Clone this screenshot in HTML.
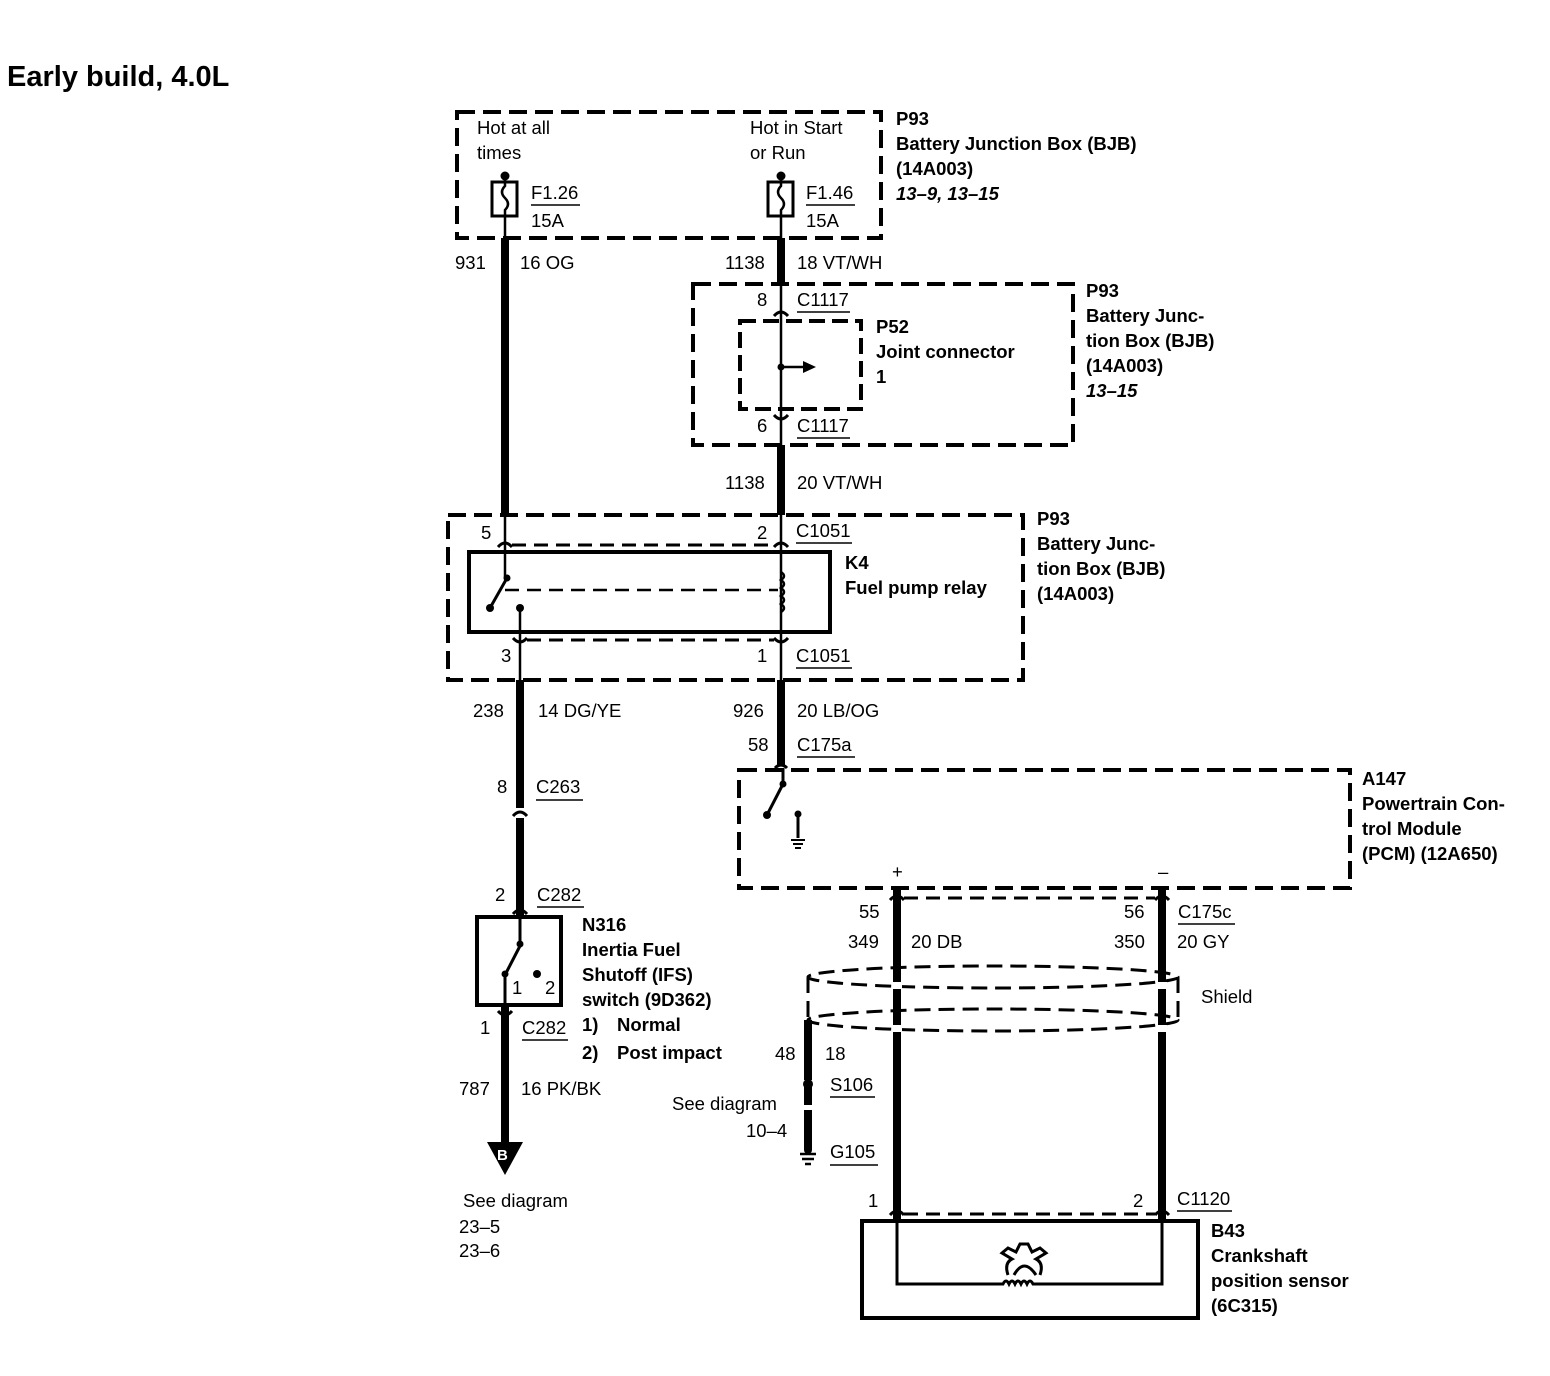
<!DOCTYPE html>
<html><head><meta charset="utf-8"><style>
html,body{margin:0;padding:0;background:#fff}
svg{display:block}
text{font-family:"Liberation Sans",Arial,sans-serif;font-size:18.5px;fill:#000}
.b{font-weight:bold}
.i{font-style:italic;font-weight:bold}
</style></head><body>
<svg width="1550" height="1376" viewBox="0 0 1550 1376" xmlns="http://www.w3.org/2000/svg">
<text x="7" y="86" class="b" style="font-size:29px">Early build, 4.0L</text>

<g fill="none" stroke="#000" stroke-width="4" stroke-dasharray="18,8">
<rect x="457" y="112" width="424" height="126"/>
<rect x="693" y="284" width="380" height="161"/>
<rect x="448" y="515" width="575" height="165"/>
<rect x="739" y="770" width="611" height="118"/>
</g>
<rect x="740" y="321" width="121" height="88" fill="none" stroke="#000" stroke-width="4" stroke-dasharray="16,7"/>

<text x="477" y="134">Hot at all</text>
<text x="477" y="159">times</text>
<text x="750" y="134">Hot in Start</text>
<text x="750" y="159">or Run</text>
<text x="896" y="125" class="b">P93</text>
<text x="896" y="150" class="b">Battery Junction Box (BJB)</text>
<text x="896" y="175" class="b">(14A003)</text>
<text x="896" y="200" class="i">13–9, 13–15</text>

<g stroke="#000" fill="none">
<circle cx="505" cy="176" r="4" fill="#000"/>
<rect x="492" y="182" width="25" height="34" stroke-width="3"/>
<path d="M505 176 V186 q-6 6 0 12 q6 6 0 12 V238" stroke-width="2.5"/>
<circle cx="781" cy="176" r="4" fill="#000"/>
<rect x="768" y="182" width="25" height="34" stroke-width="3"/>
<path d="M781 176 V186 q-6 6 0 12 q6 6 0 12 V238" stroke-width="2.5"/>
</g>
<text x="531" y="199">F1.26</text><line x1="531" y1="205" x2="580" y2="205" stroke="#000" stroke-width="1.5"/>
<text x="531" y="227">15A</text>
<text x="806" y="199">F1.46</text><line x1="806" y1="205" x2="855" y2="205" stroke="#000" stroke-width="1.5"/>
<text x="806" y="227">15A</text>

<line x1="505" y1="238" x2="505" y2="515" stroke="#000" stroke-width="8"/>
<text x="455" y="269">931</text><text x="520" y="269">16 OG</text>
<line x1="781" y1="238" x2="781" y2="284" stroke="#000" stroke-width="8"/>
<text x="725" y="269">1138</text><text x="797" y="269">18 VT/WH</text>
<line x1="781" y1="284" x2="781" y2="445" stroke="#000" stroke-width="2.5"/>
<path d="M774 316 q7 -8 14 0" stroke="#000" stroke-width="3" fill="none"/>
<path d="M774 415 q7 8 14 0" stroke="#000" stroke-width="3" fill="none"/>
<circle cx="781" cy="367" r="3.5"/>
<line x1="781" y1="367" x2="805" y2="367" stroke="#000" stroke-width="2.5"/>
<path d="M803 361 L816 367 L803 373Z"/>
<text x="757" y="306">8</text><text x="797" y="306">C1117</text><line x1="797" y1="312" x2="850" y2="312" stroke="#000" stroke-width="1.5"/>
<text x="757" y="432">6</text><text x="797" y="432">C1117</text><line x1="797" y1="438" x2="850" y2="438" stroke="#000" stroke-width="1.5"/>
<text x="876" y="333" class="b">P52</text>
<text x="876" y="358" class="b">Joint connector</text>
<text x="876" y="383" class="b">1</text>
<text x="1086" y="297" class="b">P93</text>
<text x="1086" y="322" class="b">Battery Junc-</text>
<text x="1086" y="347" class="b">tion Box (BJB)</text>
<text x="1086" y="372" class="b">(14A003)</text>
<text x="1086" y="397" class="i">13–15</text>

<line x1="781" y1="445" x2="781" y2="515" stroke="#000" stroke-width="8"/>
<text x="725" y="489">1138</text><text x="797" y="489">20 VT/WH</text>

<g stroke="#000" fill="none">
<line x1="505" y1="515" x2="505" y2="578" stroke-width="2.5"/>
<line x1="781" y1="515" x2="781" y2="632" stroke-width="2.5"/>
<path d="M498 547 q7 -8 14 0 M774 547 q7 -8 14 0" stroke-width="3"/>
<line x1="512" y1="545" x2="774" y2="545" stroke-width="3" stroke-dasharray="14,8"/>
<rect x="469" y="552" width="361" height="80" stroke-width="4"/>
<line x1="507" y1="578" x2="490" y2="608" stroke-width="3"/>
<line x1="505" y1="590" x2="778" y2="590" stroke-width="2.5" stroke-dasharray="14,8"/>
<path d="M781 572 q6 4 0 8 q6 4 0 8 q6 4 0 8 q6 4 0 8 q6 4 0 8" stroke-width="2.5"/>
<line x1="520" y1="608" x2="520" y2="680" stroke-width="2.5"/>
<line x1="781" y1="632" x2="781" y2="680" stroke-width="2.5"/>
<path d="M513 638 q7 8 14 0 M774 638 q7 8 14 0" stroke-width="3"/>
<line x1="527" y1="640" x2="774" y2="640" stroke-width="3" stroke-dasharray="14,8"/>
</g>
<circle cx="507" cy="578" r="3.5"/><circle cx="490" cy="608" r="4"/><circle cx="520" cy="608" r="4"/>
<text x="481" y="539">5</text><text x="757" y="539">2</text>
<text x="796" y="537">C1051</text><line x1="796" y1="543" x2="852" y2="543" stroke="#000" stroke-width="1.5"/>
<text x="501" y="662">3</text><text x="757" y="662">1</text>
<text x="796" y="662">C1051</text><line x1="796" y1="668" x2="852" y2="668" stroke="#000" stroke-width="1.5"/>
<text x="845" y="569" class="b">K4</text>
<text x="845" y="594" class="b">Fuel pump relay</text>
<text x="1037" y="525" class="b">P93</text>
<text x="1037" y="550" class="b">Battery Junc-</text>
<text x="1037" y="575" class="b">tion Box (BJB)</text>
<text x="1037" y="600" class="b">(14A003)</text>

<line x1="520" y1="680" x2="520" y2="808" stroke="#000" stroke-width="8"/>
<line x1="520" y1="818" x2="520" y2="916" stroke="#000" stroke-width="8"/>
<path d="M513 816 q7 -8 14 0 M513 914 q7 -8 14 0" stroke="#000" stroke-width="3" fill="none"/>
<text x="473" y="717">238</text><text x="538" y="717">14 DG/YE</text>
<text x="497" y="793">8</text><text x="536" y="793">C263</text><line x1="536" y1="800" x2="583" y2="800" stroke="#000" stroke-width="1.5"/>
<text x="495" y="901">2</text><text x="537" y="901">C282</text><line x1="537" y1="907" x2="584" y2="907" stroke="#000" stroke-width="1.5"/>

<rect x="477" y="917" width="84" height="88" fill="none" stroke="#000" stroke-width="4"/>
<line x1="520" y1="917" x2="520" y2="944" stroke="#000" stroke-width="3"/>
<line x1="521" y1="944" x2="505" y2="975" stroke="#000" stroke-width="3"/>
<circle cx="520" cy="944" r="3.5"/><circle cx="505" cy="974" r="3.5"/><circle cx="537" cy="974" r="4"/>
<line x1="505" y1="974" x2="505" y2="1005" stroke="#000" stroke-width="3"/>
<text x="512" y="994">1</text><text x="545" y="994">2</text>
<line x1="505" y1="1005" x2="505" y2="1145" stroke="#000" stroke-width="8"/>
<path d="M498 1011 q7 8 14 0" stroke="#000" stroke-width="3" fill="none"/>
<text x="480" y="1034">1</text><text x="522" y="1034">C282</text><line x1="522" y1="1040" x2="568" y2="1040" stroke="#000" stroke-width="1.5"/>
<text x="459" y="1095">787</text><text x="521" y="1095">16 PK/BK</text>
<path d="M487 1142 L523 1142 L505 1175Z"/>
<text x="497" y="1160" class="b" style="fill:#fff;font-size:15px">B</text>
<text x="463" y="1207">See diagram</text>
<text x="459" y="1233">23–5</text>
<text x="459" y="1257">23–6</text>
<text x="582" y="931" class="b">N316</text>
<text x="582" y="956" class="b"> Inertia Fuel</text>
<text x="582" y="981" class="b">Shutoff (IFS)</text>
<text x="582" y="1006" class="b">switch (9D362)</text>
<text x="582" y="1031" class="b">1)</text><text x="617" y="1031" class="b">Normal</text>
<text x="582" y="1059" class="b">2)</text><text x="617" y="1059" class="b">Post impact</text>

<line x1="781" y1="680" x2="781" y2="766" stroke="#000" stroke-width="8"/>
<text x="733" y="717">926</text><text x="797" y="717">20 LB/OG</text>
<text x="748" y="751">58</text><text x="797" y="751">C175a</text><line x1="797" y1="757" x2="855" y2="757" stroke="#000" stroke-width="1.5"/>
<path d="M775 768 q6 -6 12 0" stroke="#000" stroke-width="3" fill="none"/>
<line x1="783" y1="768" x2="783" y2="784" stroke="#000" stroke-width="3"/>
<line x1="783" y1="784" x2="767" y2="815" stroke="#000" stroke-width="3"/>
<circle cx="783" cy="784" r="3.5"/><circle cx="767" cy="815" r="4"/><circle cx="798" cy="814" r="3.5"/>
<line x1="798" y1="814" x2="798" y2="838" stroke="#000" stroke-width="3"/>
<g stroke="#000" stroke-width="2"><line x1="791" y1="840" x2="805" y2="840"/><line x1="793" y1="844" x2="803" y2="844"/><line x1="795" y1="848" x2="801" y2="848"/></g>
<text x="1362" y="785" class="b">A147</text>
<text x="1362" y="810" class="b">Powertrain Con-</text>
<text x="1362" y="835" class="b">trol Module</text>
<text x="1362" y="860" class="b">(PCM) (12A650)</text>
<text x="892" y="878">+</text><text x="1158" y="878">–</text>

<line x1="897" y1="890" x2="897" y2="1220" stroke="#000" stroke-width="8"/>
<line x1="1162" y1="890" x2="1162" y2="1220" stroke="#000" stroke-width="8"/>
<path d="M890 900 q7 -8 14 0 M1155 900 q7 -8 14 0" stroke="#000" stroke-width="3" fill="none"/>
<line x1="904" y1="898" x2="1155" y2="898" stroke="#000" stroke-width="3" stroke-dasharray="14,8"/>
<text x="859" y="918">55</text><text x="1124" y="918">56</text>
<text x="1178" y="918">C175c</text><line x1="1178" y1="924" x2="1235" y2="924" stroke="#000" stroke-width="1.5"/>
<text x="848" y="948">349</text><text x="911" y="948">20 DB</text>
<text x="1114" y="948">350</text><text x="1177" y="948">20 GY</text>
<g fill="none" stroke="#000" stroke-width="3" stroke-dasharray="16,8">
<ellipse cx="993" cy="977" rx="185" ry="11"/>
<ellipse cx="993" cy="1020" rx="185" ry="11"/>
<line x1="808" y1="977" x2="808" y2="1020"/>
<line x1="1178" y1="977" x2="1178" y2="1020"/>
</g>
<rect x="892" y="982" width="10" height="7" fill="#fff"/>
<rect x="1157" y="982" width="10" height="7" fill="#fff"/>
<rect x="892" y="1025" width="10" height="7" fill="#fff"/>
<rect x="1157" y="1025" width="10" height="7" fill="#fff"/>
<text x="1201" y="1003">Shield</text>
<line x1="808" y1="1020" x2="808" y2="1150" stroke="#000" stroke-width="8" stroke-dasharray="60,5,20,5,40,5"/>
<circle cx="808" cy="1084" r="5"/>
<circle cx="808" cy="1150" r="4"/>
<g stroke="#000" stroke-width="2.5"><line x1="800" y1="1154" x2="816" y2="1154"/><line x1="802" y1="1159" x2="814" y2="1159"/><line x1="805" y1="1164" x2="811" y2="1164"/></g>
<text x="775" y="1060">48</text><text x="825" y="1060">18</text>
<text x="830" y="1091">S106</text><line x1="830" y1="1097" x2="875" y2="1097" stroke="#000" stroke-width="1.5"/>
<text x="672" y="1110">See diagram</text>
<text x="746" y="1137">10–4</text>
<text x="830" y="1158">G105</text><line x1="830" y1="1165" x2="878" y2="1165" stroke="#000" stroke-width="1.5"/>

<text x="868" y="1207">1</text><text x="1133" y="1207">2</text>
<text x="1177" y="1205">C1120</text><line x1="1177" y1="1211" x2="1232" y2="1211" stroke="#000" stroke-width="1.5"/>
<path d="M890 1215 q7 -8 14 0 M1155 1215 q7 -8 14 0" stroke="#000" stroke-width="3" fill="none"/>
<line x1="904" y1="1214" x2="1155" y2="1214" stroke="#000" stroke-width="3" stroke-dasharray="14,8"/>
<rect x="862" y="1221" width="336" height="97" fill="none" stroke="#000" stroke-width="4"/>
<path d="M897 1221 V1284 H1003 q3 -6 6 0 q3 -6 6 0 q3 -6 6 0 q3 -6 6 0 q3 -6 6 0 H1162 V1221" fill="none" stroke="#000" stroke-width="3"/>
<path d="M1008 1275 q-4 -12 4 -16 l-10 -6 l6 -5 l8 4 l4 -8 l8 0 l4 8 l8 -4 l6 5 l-10 6 q8 4 4 16" fill="none" stroke="#000" stroke-width="3"/>
<path d="M1014 1275 q10 -18 22 0" fill="none" stroke="#000" stroke-width="3"/>
<text x="1211" y="1237" class="b">B43</text>
<text x="1211" y="1262" class="b">Crankshaft</text>
<text x="1211" y="1287" class="b">position sensor</text>
<text x="1211" y="1312" class="b">(6C315)</text>
</svg>
</body></html>
